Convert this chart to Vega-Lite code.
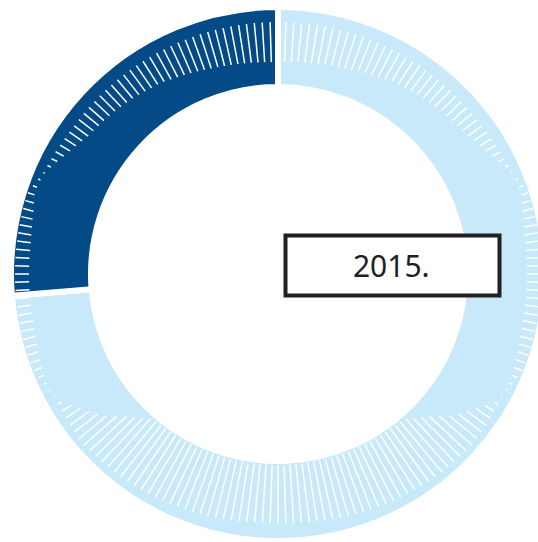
{
  "$schema": "https://vega.github.io/schema/vega-lite/v6.json",
  "width": 538,
  "height": 542,
  "padding": 0,
  "autosize": {"type": "none"},
  "background": "white",
  "view": {"stroke": null},
  "datasets": {
    "share": [
      {"group": "other", "value": 73.7},
      {"group": "2015", "value": 26.3}
    ],
    "label": [{"label": "2015."}],
    "ticks": [
      {"p":0,"o":12,"i":52},{"p":0.5,"o":12,"i":52},{"p":1,"o":12,"i":51.7},{"p":1.5,"o":12,"i":51.5},{"p":2,"o":12,"i":51},{"p":2.5,"o":12,"i":50.7},{"p":3,"o":12,"i":50.3},{"p":3.5,"o":12,"i":49.7},{"p":4,"o":12,"i":49.2},{"p":4.5,"o":12,"i":48.5},
      {"p":5,"o":12,"i":47.8},{"p":5.5,"o":12,"i":47},{"p":6,"o":12,"i":46},{"p":6.5,"o":12,"i":45},{"p":7,"o":12,"i":44},{"p":7.5,"o":12,"i":43},{"p":8,"o":12,"i":42},{"p":8.5,"o":12,"i":40.5},{"p":9,"o":12,"i":39.5},{"p":9.5,"o":12,"i":39},
      {"p":10,"o":12,"i":38},{"p":10.5,"o":12,"i":37},{"p":11,"o":12,"i":36},{"p":11.5,"o":12,"i":35.3},{"p":12,"o":12,"i":34.5},{"p":12.5,"o":12,"i":33.5},{"p":13,"o":12,"i":32.8},{"p":13.5,"o":12,"i":32},{"p":14,"o":12,"i":31.3},{"p":14.5,"o":12,"i":30.3},
      {"p":15,"o":12,"i":29.3},{"p":15.5,"o":11.8,"i":27.1},{"p":16,"o":11.3,"i":24.7},{"p":16.5,"o":10.8,"i":22.3},{"p":17,"o":10.2,"i":19.4},{"p":17.5,"o":9.7,"i":16.2},{"p":18,"o":9.2,"i":13},{"p":18.5,"o":8.5,"i":10},{"p":19,"o":6,"i":8.5},{"p":19.5,"o":3.5,"i":7.8},
      {"p":20,"o":1,"i":8},{"p":20.5,"o":1,"i":9.8},{"p":21,"o":1,"i":11.5},{"p":21.5,"o":1,"i":12.5},{"p":22,"o":1,"i":13.5},{"p":22.5,"o":1,"i":14.2},{"p":23,"o":1,"i":14.7},{"p":23.5,"o":1,"i":15},{"p":24,"o":1,"i":15},{"p":24.5,"o":1,"i":15},
      {"p":25,"o":1,"i":15},{"p":25.5,"o":1,"i":15},{"p":26,"o":1,"i":15},{"p":26.5,"o":1,"i":15},{"p":27,"o":1,"i":15},{"p":27.5,"o":1,"i":15},{"p":28,"o":1,"i":14.8},{"p":28.5,"o":1,"i":14.5},{"p":29,"o":1,"i":14},{"p":29.5,"o":1,"i":13.2},
      {"p":30,"o":1,"i":12.2},{"p":30.5,"o":1,"i":11},{"p":31,"o":1.5,"i":10},{"p":31.5,"o":3,"i":9},{"p":32,"o":5,"i":8.5},{"p":32.5,"o":6.8,"i":8.6},{"p":33,"o":8,"i":9.5},{"p":33.5,"o":8,"i":12.5},{"p":34,"o":8,"i":19},{"p":34.5,"o":7.5,"i":25},
      {"p":35,"o":7,"i":30.5},{"p":35.5,"o":6.5,"i":36},{"p":36,"o":5.5,"i":42},{"p":36.5,"o":5,"i":49},{"p":37,"o":5.5,"i":56},{"p":37.5,"o":6,"i":61.5},{"p":38,"o":6.5,"i":66.5},{"p":38.5,"o":7,"i":71},{"p":39,"o":7,"i":73},{"p":39.5,"o":7.4,"i":73},
      {"p":40,"o":7.8,"i":73},{"p":40.5,"o":8.2,"i":73},{"p":41,"o":8.6,"i":73},{"p":41.5,"o":9,"i":73},{"p":42,"o":9.4,"i":73},{"p":42.5,"o":9.8,"i":73},{"p":43,"o":10.2,"i":73},{"p":43.5,"o":10.6,"i":73},{"p":44,"o":11,"i":73},{"p":44.5,"o":11.4,"i":73},
      {"p":45,"o":11.8,"i":73},{"p":45.5,"o":12.2,"i":73},{"p":46,"o":12.6,"i":73},{"p":46.5,"o":13,"i":73},{"p":47,"o":13.4,"i":73},{"p":47.5,"o":13.8,"i":73},{"p":48,"o":14.2,"i":73},{"p":48.5,"o":14.6,"i":73},{"p":49,"o":14.8,"i":73},{"p":49.5,"o":15,"i":73},
      {"p":50,"o":15,"i":73},{"p":50.5,"o":15,"i":73},{"p":51,"o":14.8,"i":73},{"p":51.5,"o":14.6,"i":73},{"p":52,"o":14.2,"i":73},{"p":52.5,"o":13.8,"i":73},{"p":53,"o":13.4,"i":73},{"p":53.5,"o":13,"i":73},{"p":54,"o":12.6,"i":73},{"p":54.5,"o":12.2,"i":73},
      {"p":55,"o":11.8,"i":73},{"p":55.5,"o":11.4,"i":73},{"p":56,"o":11,"i":73},{"p":56.5,"o":10.6,"i":73},{"p":57,"o":10.2,"i":73},{"p":57.5,"o":9.8,"i":73},{"p":58,"o":9.4,"i":73},{"p":58.5,"o":9,"i":73},{"p":59,"o":8.6,"i":73},{"p":59.5,"o":8.2,"i":73},
      {"p":60,"o":7.8,"i":73},{"p":60.5,"o":7.4,"i":73},{"p":61,"o":7,"i":73},{"p":61.5,"o":7,"i":71},{"p":62,"o":6.5,"i":66.5},{"p":62.5,"o":6,"i":61.5},{"p":63,"o":5.5,"i":56},{"p":63.5,"o":5,"i":49},{"p":64,"o":5.5,"i":42},{"p":64.5,"o":6.5,"i":36},
      {"p":65,"o":7,"i":30.5},{"p":65.5,"o":7.5,"i":25},{"p":66,"o":8,"i":19},{"p":66.5,"o":8,"i":12.5},{"p":67,"o":8,"i":9.5},{"p":67.5,"o":6.8,"i":8.6},{"p":68,"o":5,"i":8.5},{"p":68.5,"o":3,"i":9},{"p":69,"o":1.5,"i":10},{"p":69.5,"o":1,"i":11},
      {"p":70,"o":1,"i":12.2},{"p":70.5,"o":1,"i":13.2},{"p":71,"o":1,"i":14},{"p":71.5,"o":1,"i":14.5},{"p":72,"o":1,"i":14.8},{"p":72.5,"o":1,"i":15},{"p":73,"o":1,"i":15},{"p":73.5,"o":1,"i":15},{"p":74,"o":1,"i":15},{"p":74.5,"o":1,"i":15},
      {"p":75,"o":1,"i":15},{"p":75.5,"o":1,"i":15},{"p":76,"o":1,"i":15},{"p":76.5,"o":1,"i":15},{"p":77,"o":1,"i":14.7},{"p":77.5,"o":1,"i":14.2},{"p":78,"o":1,"i":13.5},{"p":78.5,"o":1,"i":12.5},{"p":79,"o":1,"i":11.5},{"p":79.5,"o":1,"i":9.8},
      {"p":80,"o":1,"i":8},{"p":80.5,"o":3.5,"i":7.8},{"p":81,"o":6,"i":8.5},{"p":81.5,"o":8.5,"i":10},{"p":82,"o":9.2,"i":13},{"p":82.5,"o":9.7,"i":16.2},{"p":83,"o":10.2,"i":19.4},{"p":83.5,"o":10.8,"i":22.3},{"p":84,"o":11.3,"i":24.7},{"p":84.5,"o":11.8,"i":27.1},
      {"p":85,"o":12,"i":29.3},{"p":85.5,"o":12,"i":30.3},{"p":86,"o":12,"i":31.3},{"p":86.5,"o":12,"i":32},{"p":87,"o":12,"i":32.8},{"p":87.5,"o":12,"i":33.5},{"p":88,"o":12,"i":34.5},{"p":88.5,"o":12,"i":35.3},{"p":89,"o":12,"i":36},{"p":89.5,"o":12,"i":37},
      {"p":90,"o":12,"i":38},{"p":90.5,"o":12,"i":39},{"p":91,"o":12,"i":39.5},{"p":91.5,"o":12,"i":40.5},{"p":92,"o":12,"i":42},{"p":92.5,"o":12,"i":43},{"p":93,"o":12,"i":44},{"p":93.5,"o":12,"i":45},{"p":94,"o":12,"i":46},{"p":94.5,"o":12,"i":47},
      {"p":95,"o":12,"i":47.8},{"p":95.5,"o":12,"i":48.5},{"p":96,"o":12,"i":49.2},{"p":96.5,"o":12,"i":49.7},{"p":97,"o":12,"i":50.3},{"p":97.5,"o":12,"i":50.7},{"p":98,"o":12,"i":51},{"p":98.5,"o":12,"i":51.5},{"p":99,"o":12,"i":51.7},{"p":99.5,"o":12,"i":52}
    ]
  },
  "layer": [
    {
      "data": {"name": "share"},
      "mark": {"type": "arc", "outerRadius": 267, "innerRadius": 187, "stroke": "white", "strokeWidth": 6},
      "encoding": {
        "x": {"datum": 0, "type": "quantitative", "scale": {"domain": [-278, 260], "nice": false, "zero": false}, "axis": null},
        "y": {"datum": 0, "type": "quantitative", "scale": {"domain": [-268, 274], "nice": false, "zero": false}, "axis": null},
        "theta": {"field": "value", "type": "quantitative", "stack": true, "scale": {"domain": [0, 100]}},
        "order": {"field": "value", "sort": "descending"},
        "color": {"field": "group", "type": "nominal", "scale": {"domain": ["other", "2015"], "range": ["#c8e9f9", "#044a86"]}, "legend": null}
      }
    },
    {
      "data": {"name": "ticks"},
      "mark": {"type": "arc", "fill": "white", "stroke": "white", "strokeWidth": 1.5, "strokeCap": "butt"},
      "encoding": {
        "x": {"datum": 0, "type": "quantitative", "axis": null},
        "y": {"datum": 0, "type": "quantitative", "axis": null},
        "theta": {"field": "p", "type": "quantitative", "scale": {"domain": [0, 100]}},
        "theta2": {"field": "p"},
        "radius": {"field": "o", "type": "quantitative", "scale": {"type": "linear", "domain": [0, 74], "range": [264, 190], "zero": false}},
        "radius2": {"field": "i"}
      }
    },
    {
      "data": {"name": "label"},
      "mark": {"type": "rect", "fill": "white", "stroke": "#231f20", "strokeWidth": 4},
      "encoding": {
        "x": {"datum": 7.5, "type": "quantitative", "axis": null},
        "x2": {"datum": 221.5},
        "y": {"datum": 38.5, "type": "quantitative", "axis": null},
        "y2": {"datum": -21.5}
      }
    },
    {
      "data": {"name": "label"},
      "mark": {"type": "text", "align": "center", "baseline": "alphabetic", "fontSize": 30, "font": "Noto Sans", "color": "#231f20"},
      "encoding": {
        "x": {"datum": 113.3, "type": "quantitative", "axis": null},
        "y": {"datum": -2.7, "type": "quantitative", "axis": null},
        "text": {"field": "label"}
      }
    }
  ]
}
